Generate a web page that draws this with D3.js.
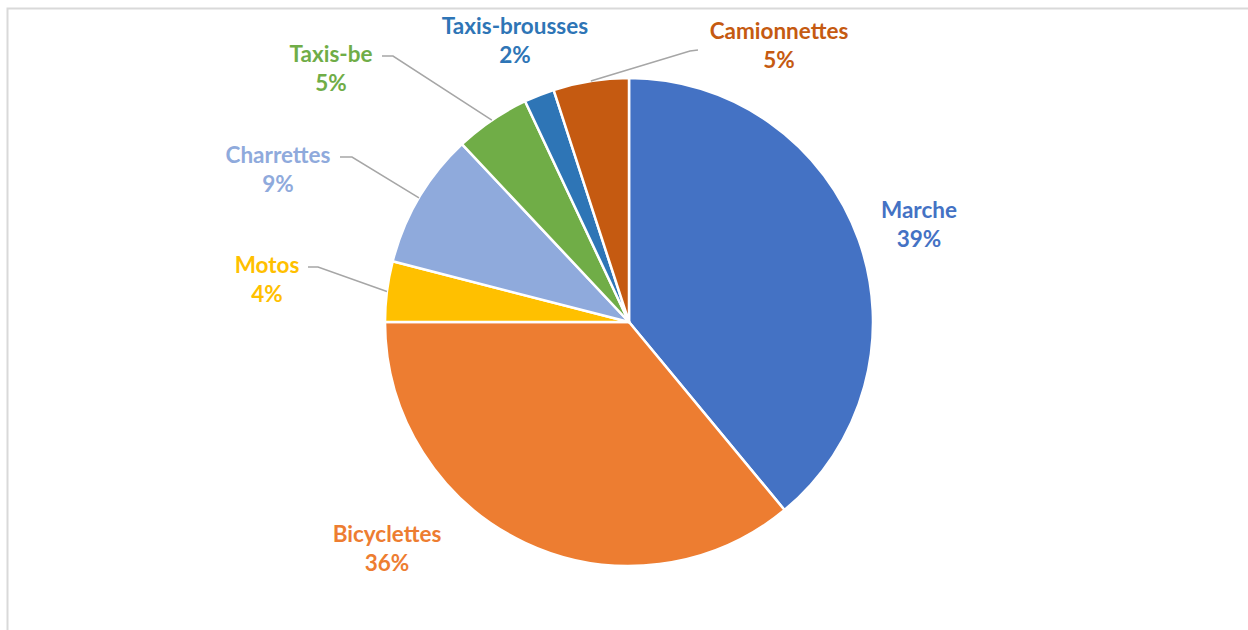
<!DOCTYPE html>
<html>
<head>
<meta charset="utf-8">
<script src="https://cdn.jsdelivr.net/npm/d3@7"></script>
<style>
  html, body { margin: 0; padding: 0; background: #ffffff; }
  svg { display: block; }
  .lbl { font-family: Lato, "Open Sans", sans-serif; font-weight: 700; font-size: 22.5px; }
</style>
</head>
<body>
<svg id="chart" width="1248" height="630"></svg>
<script>
// Modes de transport (parts en %)
const categories = ["Marche", "Bicyclettes", "Motos", "Charrettes", "Taxis-be", "Taxis-brousses", "Camionnettes"];
const values = [39, 36, 4, 9, 5, 2, 5];
const colors = ["#4472C4", "#ED7D31", "#FFC000", "#8FAADC", "#70AD47", "#2E75B6", "#C55A11"];

// Label anchor: centre x and first-line baseline, with optional leader elbow
const labelPos = [
  { x: 919, y: 218 },
  { x: 387, y: 542 },
  { x: 267, y: 273, elbow: [[318, 267], [308, 267]] },
  { x: 278, y: 163, elbow: [[352, 157], [340, 157]] },
  { x: 331, y: 62,  elbow: [[393, 56], [382, 56]] },
  { x: 515, y: 34 },
  { x: 779, y: 39,  elbow: [[690, 51], [698, 50]] }
];

const svg = d3.select("#chart");
const cx = 629, cy = 322, r = 244;

// chart area frame
svg.append("path")
  .attr("d", "M7.5,630 L7.5,8.5 L1248,8.5")
  .attr("fill", "none")
  .attr("stroke", "#d9d9d9")
  .attr("stroke-width", 2);

const data = categories.map((c, i) => ({ name: c, value: values[i], color: colors[i], pos: labelPos[i] }));

const pie = d3.pie().sort(null).value(d => d.value);
const arcs = pie(data);
const arc = d3.arc().innerRadius(0).outerRadius(r);

const g = svg.append("g").attr("transform", `translate(${cx},${cy})`);

g.selectAll("path.slice")
  .data(arcs)
  .join("path")
  .attr("class", "slice")
  .attr("d", arc)
  .attr("fill", d => d.data.color)
  .attr("stroke", "#ffffff")
  .attr("stroke-width", 2.5)
  .attr("stroke-linejoin", "round");

// leader lines from slice edge midpoint to label
arcs.forEach(a => {
  const p = a.data.pos;
  if (!p.elbow) return;
  const mid = (a.startAngle + a.endAngle) / 2;
  const ex = cx + r * Math.sin(mid), ey = cy - r * Math.cos(mid);
  const pts = [[ex, ey]].concat(p.elbow);
  svg.append("path")
    .attr("d", d3.line()(pts))
    .attr("fill", "none")
    .attr("stroke", "#a6a6a6")
    .attr("stroke-width", 1.5);
});

// labels
const total = d3.sum(values);
arcs.forEach(a => {
  const p = a.data.pos;
  const t = svg.append("text")
    .attr("class", "lbl")
    .attr("fill", a.data.color)
    .attr("text-anchor", "middle");
  t.append("tspan").attr("x", p.x).attr("y", p.y).text(a.data.name);
  t.append("tspan").attr("x", p.x).attr("y", p.y + 29).text(Math.round(a.data.value / total * 100) + "%");
});
</script>
</body>
</html>
